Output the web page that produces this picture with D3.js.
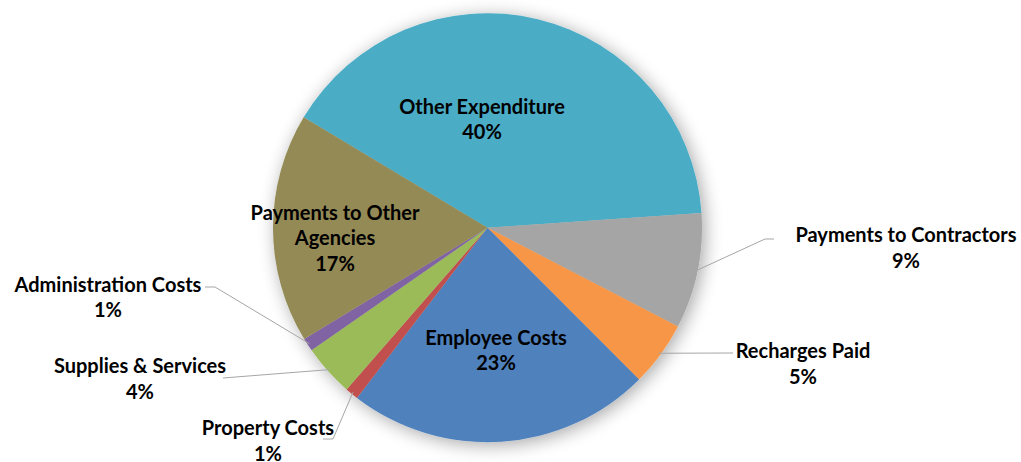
<!DOCTYPE html>
<html>
<head>
<meta charset="utf-8">
<script src="https://cdn.jsdelivr.net/npm/d3@7"></script>
<style>
  html, body { margin: 0; padding: 0; background: #fff; }
  svg { display: block; }
  text { font-family: Lato, "Open Sans", sans-serif; font-weight: bold; fill: #000; }
</style>
</head>
<body>
<svg id="chart" width="1021" height="462"></svg>
<script>
// Expenditure breakdown, share of total (%)
const categories = [
  "Other Expenditure",
  "Payments to Contractors",
  "Recharges Paid",
  "Employee Costs",
  "Property Costs",
  "Supplies & Services",
  "Administration Costs",
  "Payments to Other Agencies"
];
const shares = [40.3, 8.7, 4.9, 22.9, 1.0, 3.9, 1.0, 17.3];
const sliceColors = ["#4BACC6", "#A5A5A5", "#F79646", "#4F81BD", "#C0504D", "#9BBB59", "#8064A2", "#948A54"];

// Label text lines (wrapped category names)
const labelLines = {
  "Payments to Other Agencies": ["Payments to Other", "Agencies"]
};

// Label placement: centre of the label block, plus leader-line path for outside labels
const labelLayout = {
  "Other Expenditure":          { x: 482, y: 119.5 },
  "Payments to Contractors":    { x: 906, y: 248, leader: [[765, 239], [774, 239]] },
  "Recharges Paid":             { x: 803, y: 364, leader: [[733, 353]] },
  "Employee Costs":             { x: 496, y: 350.5 },
  "Property Costs":             { x: 268, y: 441, leader: [[333, 439], [323, 439]] },
  "Supplies & Services":        { x: 140, y: 379, leader: [[223, 378]] },
  "Administration Costs":       { x: 108, y: 297.5, leader: [[215, 287], [205, 287]] },
  "Payments to Other Agencies": { x: 335, y: 238 }
};

const cx = 487.5, cy = 227.7, radius = 214.5;
const lineHeight = 25.5;

const svg = d3.select("#chart");

const defs = svg.append("defs");
const shadow = defs.append("filter")
  .attr("id", "pieShadow")
  .attr("x", "-20%").attr("y", "-20%")
  .attr("width", "140%").attr("height", "140%");
shadow.append("feGaussianBlur").attr("in", "SourceAlpha").attr("stdDeviation", 9).attr("result", "blur");
shadow.append("feOffset").attr("in", "blur").attr("dx", 3).attr("dy", 3).attr("result", "off");
shadow.append("feComponentTransfer").attr("in", "off").attr("result", "soft")
  .append("feFuncA").attr("type", "linear").attr("slope", 0.35);
const merge = shadow.append("feMerge");
merge.append("feMergeNode").attr("in", "soft");
merge.append("feMergeNode").attr("in", "SourceGraphic");

const data = categories.map((c, i) => ({ name: c, value: shares[i], color: sliceColors[i] }));

const startAngle = -59 * Math.PI / 180;
const pie = d3.pie()
  .sort(null)
  .value(d => d.value)
  .startAngle(startAngle)
  .endAngle(startAngle + 2 * Math.PI);

const arcs = pie(data);
const arc = d3.arc().innerRadius(0).outerRadius(radius);
const edgeArc = d3.arc().innerRadius(radius - 2).outerRadius(radius - 2);

const g = svg.append("g").attr("transform", `translate(${cx},${cy})`);

g.append("g")
  .attr("filter", "url(#pieShadow)")
  .selectAll("path")
  .data(arcs)
  .join("path")
  .attr("d", arc)
  .attr("fill", d => d.data.color);

const pctFmt = d3.format(".0f");

// Leader lines for labels placed outside the pie
const line = d3.line();
svg.append("g")
  .selectAll("path")
  .data(arcs.filter(d => labelLayout[d.data.name].leader))
  .join("path")
  .attr("d", d => {
    const [ex, ey] = edgeArc.centroid(d);
    const pts = [[cx + ex, cy + ey]].concat(labelLayout[d.data.name].leader);
    return line(pts);
  })
  .attr("fill", "none")
  .attr("stroke", "#A6A6A6")
  .attr("stroke-width", 1);

// Data labels: category name and percentage
const labels = svg.append("g")
  .selectAll("text")
  .data(arcs)
  .join("text")
  .attr("text-anchor", "middle")
  .style("font-size", "20px");

labels.each(function(d) {
  const lay = labelLayout[d.data.name];
  const lines = (labelLines[d.data.name] || [d.data.name]).concat([pctFmt(d.data.value) + "%"]);
  const top = lay.y - (lines.length - 1) * lineHeight / 2;
  d3.select(this).selectAll("tspan")
    .data(lines)
    .join("tspan")
    .attr("x", lay.x)
    .attr("y", (t, i) => top + i * lineHeight)
    .attr("dy", "0.36em")
    .text(t => t);
});
</script>
</body>
</html>
